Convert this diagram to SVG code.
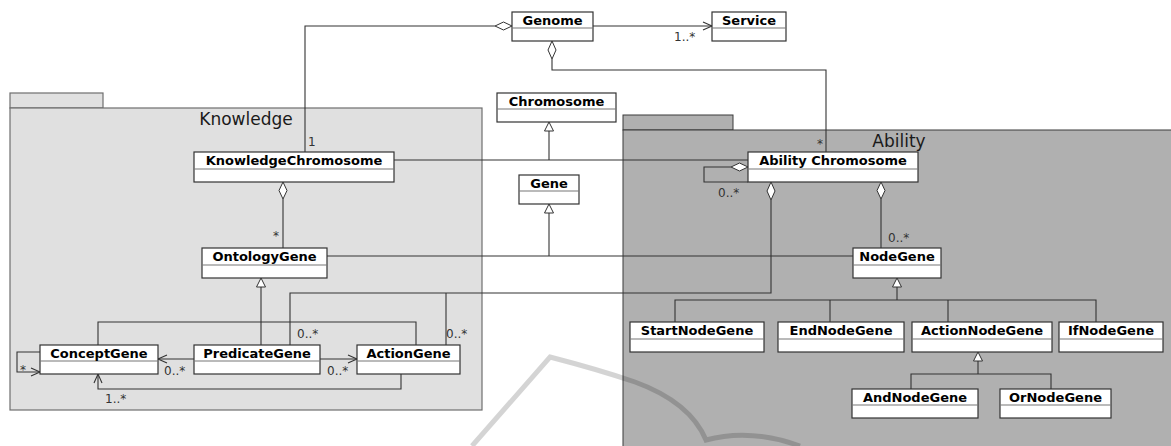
<svg xmlns="http://www.w3.org/2000/svg" width="1171" height="446" viewBox="0 0 1171 446">
<style>
.pkgK{fill:#e0e0e0;stroke:#6e6e6e;stroke-width:1.2}
.pkgA{fill:#b0b0b0;stroke:#3a3a3a;stroke-width:1}
.pkgLabel{font-family:"DejaVu Sans",sans-serif;font-size:17px;fill:#1a1a1a;text-anchor:middle}
.box{fill:#fff;stroke:#333;stroke-width:1.2}
.sep{stroke:#777;stroke-width:1.2}
.name{font-family:"DejaVu Sans",sans-serif;font-weight:bold;font-size:13px;fill:#000;text-anchor:middle}
.ln{fill:none;stroke:#333;stroke-width:1.1}
.dia{fill:#fff;stroke:#333;stroke-width:1}
.tri{fill:#fff;stroke:#333;stroke-width:1}
.arr{fill:none;stroke:#333;stroke-width:1.1}
.mult{font-family:"DejaVu Sans",sans-serif;font-size:12px;fill:#333}
</style>

<g id="pkg-knowledge">
<rect class="pkgK" x="10" y="93" width="93" height="15"/>
<rect class="pkgK" x="10" y="108" width="472" height="302"/>
<text class="pkgLabel" x="246" y="125">Knowledge</text>
</g>
<g id="pkg-ability">
<rect class="pkgA" x="623" y="115" width="110" height="15"/>
<rect class="pkgA" x="623" y="130" width="560" height="330"/>
<text class="pkgLabel" x="899" y="147">Ability</text>
</g>

<path id="watermark" d="M472,446 L550,357 Q600,370 635,382 Q690,402 706,440 Q750,428 800,446" fill="none" stroke="#000" stroke-opacity="0.17" stroke-width="5"/>

<g id="connectors">
<!-- Genome to KnowledgeChromosome -->
<path class="ln" d="M495,26 H305 V152"/>
<polygon class="dia" points="512,26 503.5,22 495,26 503.5,30"/>
<text class="mult" x="308" y="146">1</text>
<!-- Genome to Service -->
<path class="ln" d="M593,26 H712"/>
<polyline class="arr" points="703,22 712,26 703,30"/>
<text class="mult" x="674" y="41">1..*</text>
<!-- Genome to Ability Chromosome -->
<polygon class="dia" points="552,41 556,50 552,59 548,50"/>
<path class="ln" d="M552,59 V70 H826 V152"/>
<text class="mult" x="817" y="148">*</text>
<!-- KnowledgeChromosome - Ability Chromosome -->
<path class="ln" d="M394,160 H748"/>
<!-- Gene to Chromosome -->
<path class="ln" d="M549,131 V160"/>
<polygon class="tri" points="549,122 553.5,131 544.5,131"/>
<!-- OntologyGene/NodeGene to Gene -->
<path class="ln" d="M549,213 V256"/>
<polygon class="tri" points="549,204 553.5,213 544.5,213"/>
<path class="ln" d="M327,256 H853"/>
<!-- KnowledgeChromosome to OntologyGene -->
<polygon class="dia" points="283,182 287,190.5 283,199 279,190.5"/>
<path class="ln" d="M283,199 V248"/>
<text class="mult" x="273" y="240">*</text>
<!-- OntologyGene generalization -->
<path class="ln" d="M261,287 V345"/>
<polygon class="tri" points="261,278 265.5,287 256.5,287"/>
<!-- Ability Chromosome self -->
<polygon class="dia" points="748,167 739.5,163 731,167 739.5,171"/>
<path class="ln" d="M731,167 H704 V182 H748"/>
<text class="mult" x="718" y="197">0..*</text>
<!-- Ability Chromosome to PredicateGene / ActionGene -->
<polygon class="dia" points="771,182 775,191 771,200 767,191"/>
<path class="ln" d="M771,200 V293 H290 V345"/>
<path class="ln" d="M446,293 V345"/>
<text class="mult" x="297" y="338">0..*</text>
<text class="mult" x="446" y="338">0..*</text>
<!-- Ability Chromosome to NodeGene -->
<polygon class="dia" points="881,182 885,190.5 881,199 877,190.5"/>
<path class="ln" d="M881,199 V248"/>
<text class="mult" x="888" y="242">0..*</text>
<!-- NodeGene generalization -->
<path class="ln" d="M897,287 V300"/>
<polygon class="tri" points="897,278 901.5,287 892.5,287"/>
<path class="ln" d="M675,322 V300 H1096 V322 M830,300 V322 M948,300 V322"/>
<!-- ActionNodeGene generalization -->
<path class="ln" d="M978,361 V374"/>
<polygon class="tri" points="978,352 982.5,361 973.5,361"/>
<path class="ln" d="M911,389 V374 H1051 V389"/>
<!-- ConceptGene - ActionGene -->
<path class="ln" d="M98,345 V322 H416 V345"/>
<!-- PredicateGene to ConceptGene -->
<path class="ln" d="M194,359 H158"/>
<polyline class="arr" points="167,355 158,359 167,363"/>
<text class="mult" x="164" y="375">0..*</text>
<!-- PredicateGene to ActionGene -->
<path class="ln" d="M320,359 H357"/>
<polyline class="arr" points="348,355 357,359 348,363"/>
<text class="mult" x="327" y="375">0..*</text>
<!-- ConceptGene self -->
<path class="ln" d="M40,352 H17 V372 H40"/>
<polyline class="arr" points="31,368 40,372 31,376"/>
<text class="mult" x="20" y="374">*</text>
<!-- ActionGene to ConceptGene -->
<path class="ln" d="M401,374 V389 H98 V374"/>
<polyline class="arr" points="94,383 98,374 102,383"/>
<text class="mult" x="105" y="403">1..*</text>
</g>

<g id="Genome"><rect class="box" x="512" y="12" width="81" height="29"/><line class="sep" x1="512" y1="28" x2="593" y2="28"/><text class="name" x="552.5" y="24.5">Genome</text></g>
<g id="Service"><rect class="box" x="712" y="12" width="74" height="29"/><line class="sep" x1="712" y1="28" x2="786" y2="28"/><text class="name" x="749" y="24.5">Service</text></g>
<g id="Chromosome"><rect class="box" x="497" y="93" width="119" height="29"/><line class="sep" x1="497" y1="109" x2="616" y2="109"/><text class="name" x="556.5" y="105.5">Chromosome</text></g>
<g id="KnowledgeChromosome"><rect class="box" x="194" y="152" width="200" height="30"/><line class="sep" x1="194" y1="169" x2="394" y2="169"/><text class="name" x="294" y="165">KnowledgeChromosome</text></g>
<g id="Gene"><rect class="box" x="519" y="175" width="60" height="29"/><line class="sep" x1="519" y1="191" x2="579" y2="191"/><text class="name" x="549" y="187.5">Gene</text></g>
<g id="AbilityChromosome"><rect class="box" x="748" y="152" width="170" height="30"/><line class="sep" x1="748" y1="169" x2="918" y2="169"/><text class="name" x="833" y="165">Ability Chromosome</text></g>
<g id="OntologyGene"><rect class="box" x="202" y="248" width="125" height="30"/><line class="sep" x1="202" y1="265" x2="327" y2="265"/><text class="name" x="264.5" y="261">OntologyGene</text></g>
<g id="NodeGene"><rect class="box" x="853" y="248" width="88" height="30"/><line class="sep" x1="853" y1="265" x2="941" y2="265"/><text class="name" x="897" y="261">NodeGene</text></g>
<g id="ConceptGene"><rect class="box" x="40" y="345" width="118" height="29"/><line class="sep" x1="40" y1="361" x2="158" y2="361"/><text class="name" x="99" y="357.5">ConceptGene</text></g>
<g id="PredicateGene"><rect class="box" x="194" y="345" width="126" height="29"/><line class="sep" x1="194" y1="361" x2="320" y2="361"/><text class="name" x="257" y="357.5">PredicateGene</text></g>
<g id="ActionGene"><rect class="box" x="357" y="345" width="103" height="29"/><line class="sep" x1="357" y1="361" x2="460" y2="361"/><text class="name" x="408.5" y="357.5">ActionGene</text></g>
<g id="StartNodeGene"><rect class="box" x="630" y="322" width="134" height="30"/><line class="sep" x1="630" y1="339" x2="764" y2="339"/><text class="name" x="697" y="335">StartNodeGene</text></g>
<g id="EndNodeGene"><rect class="box" x="778" y="322" width="126" height="30"/><line class="sep" x1="778" y1="339" x2="904" y2="339"/><text class="name" x="841" y="335">EndNodeGene</text></g>
<g id="ActionNodeGene"><rect class="box" x="912" y="322" width="140" height="30"/><line class="sep" x1="912" y1="339" x2="1052" y2="339"/><text class="name" x="982" y="335">ActionNodeGene</text></g>
<g id="IfNodeGene"><rect class="box" x="1059" y="322" width="104" height="30"/><line class="sep" x1="1059" y1="339" x2="1163" y2="339"/><text class="name" x="1111" y="335">IfNodeGene</text></g>
<g id="AndNodeGene"><rect class="box" x="852" y="389" width="126" height="29"/><line class="sep" x1="852" y1="405" x2="978" y2="405"/><text class="name" x="915" y="401.5">AndNodeGene</text></g>
<g id="OrNodeGene"><rect class="box" x="1000" y="389" width="111" height="29"/><line class="sep" x1="1000" y1="405" x2="1111" y2="405"/><text class="name" x="1055.5" y="401.5">OrNodeGene</text></g>
</svg>
